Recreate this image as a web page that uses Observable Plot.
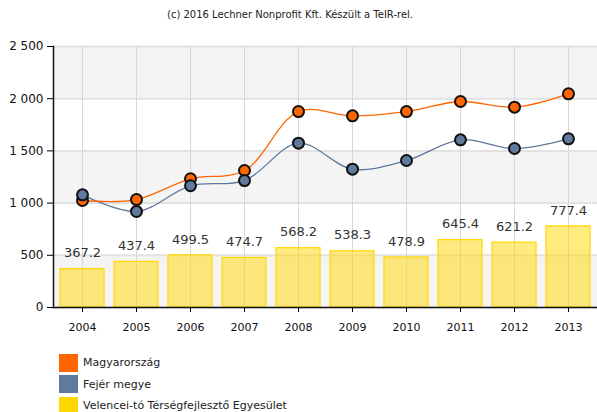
<!DOCTYPE html>
<html>
<head>
<meta charset="utf-8">
<script src="https://cdn.jsdelivr.net/npm/d3@7"></script>
<script src="https://cdn.jsdelivr.net/npm/@observablehq/plot@0.6"></script>
<style>
  body { margin: 0; background: #fff; font-family: "DejaVu Sans", sans-serif; }
  #title { height: 30px; width: 597px; font-size: 10px; color: #222; position: relative; }
  #title span { position: absolute; left: 290px; top: 9px; transform: translateX(-50%); white-space: nowrap; }
  #legend { padding-left: 59px; padding-top: 12px; font-size: 11px; color: #222; }
  .item { display: flex; align-items: center; height: 21.5px; }
  .sw { width: 19px; height: 18px; margin-right: 5px; }
</style>
</head>
<body>
<div id="title"><span>(c) 2016 Lechner Nonprofit Kft. Készült a TeIR-rel.</span></div>
<div id="chart"></div>
<div id="legend"></div>
<script>
const years = ["2004","2005","2006","2007","2008","2009","2010","2011","2012","2013"];
const magyarorszag = [1025, 1034, 1233, 1312, 1877, 1836, 1877, 1973, 1919, 2047];
const fejer = [1079, 920, 1166, 1216, 1574, 1325, 1408, 1606, 1523, 1616];
const velence = [367.2, 437.4, 499.5, 474.7, 568.2, 538.3, 478.9, 645.4, 621.2, 777.4];
const yTicks = [0, 500, 1000, 1500, 2000, 2500];
const shadedBands = [[0, 500], [1000, 1500], [2000, 2500]];
const seriesNames = ["Magyarország", "Fejér megye", "Velencei-tó Térségfejlesztő Egyesület"];
const seriesColors = ["#ff6600", "#5f7a9c", "#ffd700"];

const mData = years.map((y, i) => ({year: y, value: magyarorszag[i]}));
const fData = years.map((y, i) => ({year: y, value: fejer[i]}));
const vData = years.map((y, i) => ({year: y, value: velence[i]}));
const bands = shadedBands.map(([a, b]) => ({y1: a, y2: b}));

const fmt = d => d3.format(",")(d).replace(/,/g, " ");

const chart = Plot.plot({
  width: 597,
  height: 310,
  marginLeft: 53,
  marginRight: 0,
  marginTop: 16,
  marginBottom: 33,
  style: {fontFamily: "DejaVu Sans, sans-serif", background: "#fff"},
  x: {type: "band", domain: years, paddingInner: 0.19, paddingOuter: 0.095, label: null},
  y: {domain: [0, 2500], label: null},
  marks: [
    Plot.rect(bands, {y1: "y1", y2: "y2", fill: "#f4f4f4"}),
    Plot.ruleY(yTicks, {stroke: "#e2e2e2", strokeWidth: 2}),
    Plot.ruleX(years, {stroke: "#d6d6d6", strokeWidth: 1}),
    Plot.barY(vData, {x: "year", y: "value", fill: "#ffd700", fillOpacity: 0.5, stroke: "#ffd700", strokeWidth: 1.2}),
    Plot.text(vData, {x: "year", y: "value", text: d => d.value.toFixed(1), dy: -16, fontSize: 13, fill: "#333"}),
    Plot.line(fData, {x: "year", y: "value", stroke: seriesColors[1], strokeWidth: 1.3, curve: "catmull-rom"}),
    Plot.line(mData, {x: "year", y: "value", stroke: seriesColors[0], strokeWidth: 1.3, curve: "catmull-rom"}),
    Plot.dot(mData, {x: "year", y: "value", r: 5.5, fill: seriesColors[0], stroke: "#111", strokeWidth: 2}),
    Plot.dot(fData, {x: "year", y: "value", r: 5.5, fill: seriesColors[1], stroke: "#111", strokeWidth: 2}),
    Plot.axisY({ticks: yTicks, tickFormat: fmt, tickSize: 6, fontSize: 12, fill: "#111", tickPadding: 4}),
    Plot.axisX({tickSize: 5, fontSize: 11, fill: "#111", tickPadding: 11}),
    Plot.frame({anchor: "left", stroke: "#111", strokeWidth: 1.5}),
    Plot.frame({anchor: "bottom", stroke: "#111", strokeWidth: 1.5})
  ]
});
document.getElementById("chart").appendChild(chart);

const legend = document.getElementById("legend");
seriesNames.forEach((n, i) => {
  const it = document.createElement("div");
  it.className = "item";
  it.innerHTML = `<div class="sw" style="background:${seriesColors[i]}"></div><span>${n}</span>`;
  legend.appendChild(it);
});
</script>
</body>
</html>
